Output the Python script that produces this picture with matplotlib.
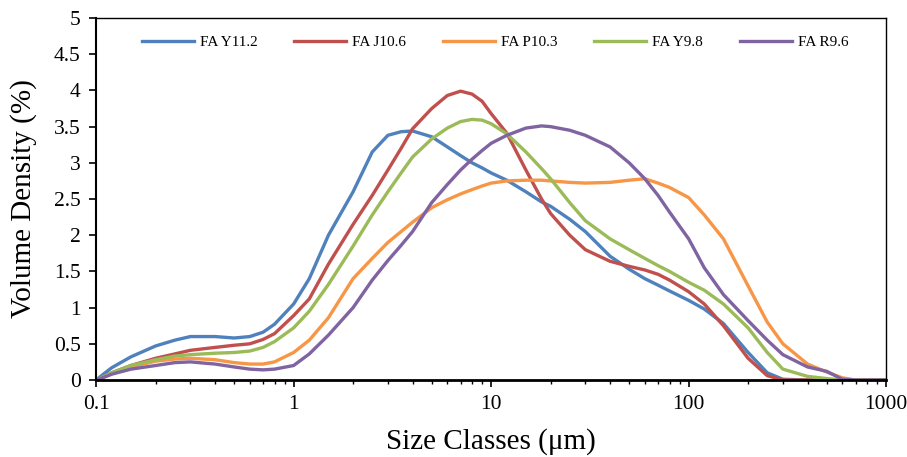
import numpy as np
import matplotlib
matplotlib.use('Agg')
import matplotlib.pyplot as plt
from matplotlib.ticker import LogLocator, NullFormatter

plt.rcParams['font.family'] = ['Liberation Serif', 'DejaVu Serif']

# size classes (um) and volume density (%)
size = [0.1, 0.11, 0.12, 0.15, 0.2, 0.25, 0.3, 0.4, 0.5, 0.6, 0.7, 0.8, 1.0, 1.2, 1.5,
        2, 2.5, 3, 3.5, 4, 5, 6, 7, 8, 9, 10, 12, 15, 18, 20, 25, 30, 40, 50, 60, 70, 80,
        100, 120, 150, 200, 250, 300, 400, 500, 600, 700, 1000]

fa_y112 = [0.0, 0.09, 0.17, 0.32, 0.47, 0.55, 0.6, 0.6, 0.58, 0.6, 0.66, 0.77, 1.05, 1.4, 2.0,
           2.6, 3.15, 3.38, 3.43, 3.44, 3.36, 3.22, 3.1, 3.0, 2.93, 2.86, 2.76, 2.6, 2.46, 2.4,
           2.22, 2.05, 1.71, 1.53, 1.4, 1.31, 1.23, 1.1, 0.98, 0.78, 0.38, 0.1, 0.01, 0.0, 0.0,
           0.0, 0.0, 0.0]
fa_j106 = [0.0, 0.05, 0.1, 0.2, 0.3, 0.36, 0.41, 0.45, 0.48, 0.5, 0.56, 0.64, 0.89, 1.12, 1.6,
           2.15, 2.55, 2.9, 3.2, 3.47, 3.75, 3.93, 3.99, 3.95, 3.85, 3.68, 3.41, 2.9, 2.5, 2.3,
           2.0, 1.8, 1.64, 1.57, 1.52, 1.46, 1.38, 1.22, 1.05, 0.75, 0.3, 0.06, 0.0, 0.0, 0.0,
           0.0, 0.0, 0.0]
fa_p103 = [0.0, 0.04, 0.09, 0.18, 0.26, 0.29, 0.3, 0.28, 0.24, 0.22, 0.22, 0.25, 0.38, 0.55, 0.86,
           1.4, 1.68, 1.9, 2.05, 2.18, 2.38, 2.49, 2.57, 2.63, 2.68, 2.72, 2.75, 2.76, 2.76, 2.75,
           2.73, 2.72, 2.73, 2.76, 2.78, 2.72, 2.66, 2.52, 2.28, 1.95, 1.3, 0.8, 0.5, 0.22, 0.11,
           0.03, 0.0, 0.0]
fa_y98 = [0.0, 0.05, 0.1, 0.2, 0.28, 0.33, 0.35, 0.37, 0.38, 0.4, 0.45, 0.53, 0.72, 0.95, 1.32,
          1.85, 2.28, 2.6, 2.86, 3.08, 3.33, 3.48, 3.57, 3.6, 3.59, 3.54, 3.4, 3.15, 2.92, 2.78,
          2.45, 2.2, 1.95, 1.8, 1.68, 1.58, 1.5, 1.35, 1.24, 1.05, 0.72, 0.38, 0.15, 0.05, 0.02,
          0.0, 0.0, 0.0]
fa_r96 = [0.0, 0.04, 0.08, 0.15, 0.2, 0.24, 0.25, 0.22, 0.18, 0.15, 0.14, 0.15, 0.2, 0.36, 0.62,
          1.0, 1.38, 1.65, 1.86, 2.05, 2.45, 2.7, 2.9, 3.05, 3.17, 3.27, 3.38, 3.48, 3.51, 3.5,
          3.45, 3.38, 3.22, 3.0, 2.78, 2.55, 2.32, 1.95, 1.55, 1.18, 0.82, 0.55, 0.35, 0.18, 0.12,
          0.01, 0.0, 0.0]

labels = ['FA Y11.2', 'FA J10.6', 'FA P10.3', 'FA Y9.8', 'FA R9.6']
colors = ['#4F81BD', '#C0504D', '#F79646', '#9BBB59', '#8064A2']

x_ticks = [0.1, 1, 10, 100, 1000]
x_tick_labels = ['0.1', '1', '10', '100', '1000']
y_ticks = np.arange(0, 5.01, 0.5)

fig = plt.figure(figsize=(9.07, 4.57), dpi=100)
ax = fig.add_axes([0.106, 0.1685, 0.871, 0.792])

for serie, lab, col in zip([fa_y112, fa_j106, fa_p103, fa_y98, fa_r96], labels, colors):
    ax.plot(size, serie, color=col, lw=2.4, label=lab, solid_joinstyle='round')

ax.set_xscale('log')
ax.set_xlim(0.1, 1000)
ax.set_ylim(0, 5)
ax.set_xticks(x_ticks)
ax.set_xticklabels(x_tick_labels)
ax.xaxis.set_minor_locator(LogLocator(base=10, subs=np.arange(2, 10)))
ax.xaxis.set_minor_formatter(NullFormatter())
ax.set_yticks(y_ticks)
ax.set_yticklabels(['%g' % v for v in y_ticks])

ax.tick_params(axis='both', which='major', direction='out', length=5, width=1.2,
               labelsize=15.5, pad=6)
ax.tick_params(axis='x', which='minor', direction='out', length=3, width=1)

for side in ['top', 'right']:
    ax.spines[side].set_linewidth(1.0)
ax.spines['left'].set_linewidth(1.5)
ax.spines['bottom'].set_linewidth(2.0)

ax.set_xlabel('Size Classes (\u03bcm)', fontsize=21, labelpad=10)
ax.set_ylabel('Volume Density (%)', fontsize=21, labelpad=12)

ax.legend(loc='upper center', ncol=5, frameon=False, fontsize=11, handlelength=3.4,
          columnspacing=2.4, handletextpad=0.4, bbox_to_anchor=(0.505, 0.99))

fig.savefig('out.png', dpi=100)
